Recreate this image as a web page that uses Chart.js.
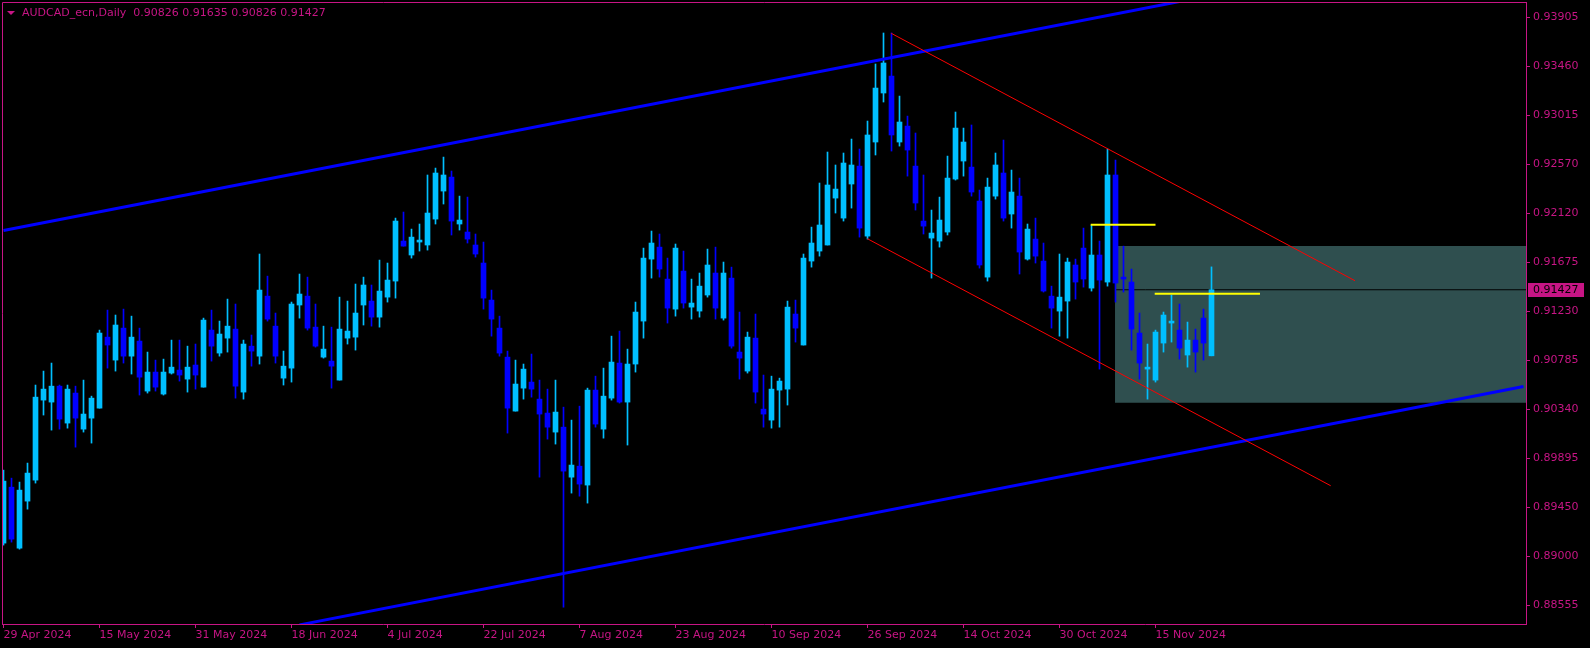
<!DOCTYPE html>
<html><head><meta charset="utf-8">
<script src="https://cdn.jsdelivr.net/npm/chart.js@4.4.0/dist/chart.umd.min.js"></script>
<style>html,body{margin:0;padding:0;background:#000;overflow:hidden}canvas{display:block}</style>
</head><body>
<canvas id="c" width="1590" height="648"></canvas>
<script>
// ---------- DATA ----------
const symbolTitle = 'AUDCAD_ecn,Daily';
const xTickLabels = ['29 Apr 2024','15 May 2024','31 May 2024','18 Jun 2024','4 Jul 2024','22 Jul 2024','7 Aug 2024','23 Aug 2024','10 Sep 2024','26 Sep 2024','14 Oct 2024','30 Oct 2024','15 Nov 2024'];
const barsPerTick = 12;
const yTickLabels = ['0.93905','0.93460','0.93015','0.92570','0.92120','0.91675','0.91230','0.90785','0.90340','0.89895','0.89450','0.89000','0.88555'];

const opens = [0.89122,0.89631,0.89076,0.89504,0.89695,0.90423,0.90405,0.90550,0.90214,0.90487,
0.90159,0.90259,0.90350,0.90996,0.90787,0.91078,0.90823,0.90960,0.90505,0.90678,
0.90478,0.90669,0.90696,0.90614,0.90742,0.90541,0.91060,0.90851,0.90987,0.91069,
0.90496,0.90914,0.90823,0.91369,0.91096,0.90623,0.90714,0.91288,0.91369,0.91087,
0.90814,0.90778,0.90605,0.90987,0.90996,0.91288,0.91324,0.91178,0.91360,0.91506,
0.91870,0.91743,0.91861,0.91834,0.92070,0.92325,0.92452,0.92025,0.91952,0.91834,
0.91670,0.91333,0.91078,0.90814,0.90323,0.90532,0.90587,0.90432,0.90305,0.90132,
0.90177,0.89722,0.89822,0.89650,0.90514,0.90159,0.90441,0.90760,0.90405,0.90751,
0.91142,0.91706,0.91815,0.91524,0.91251,0.91597,0.91269,0.91233,0.91379,0.91579,
0.91169,0.91533,0.90860,0.90687,0.90987,0.90341,0.90241,0.90514,0.90523,0.91206,
0.90924,0.91688,0.91779,0.91834,0.92261,0.92079,0.92389,0.92552,0.91915,0.92771,
0.93217,0.93371,0.92771,0.92916,0.92552,0.92052,0.91897,0.91870,0.91952,0.92434,
0.92598,0.92543,0.92234,0.91542,0.92279,0.92489,0.92116,0.92279,0.91706,0.91888,
0.91688,0.91369,0.91233,0.91324,0.91652,0.91806,0.91442,0.91743,0.91497,0.92471,
0.91542,0.91497,0.91033,0.90705,0.90605,0.90942,0.91124,0.91060,0.90833,0.90969,
0.91169,0.90826];
const highs = [0.89786,0.89713,0.89677,0.89850,0.90560,0.90687,0.90760,0.90560,0.90560,0.90550,
0.90605,0.90459,0.91060,0.91242,0.91197,0.91251,0.91187,0.91078,0.90860,0.90787,
0.90796,0.90969,0.90969,0.90914,0.90933,0.91169,0.91242,0.91142,0.91342,0.91297,
0.90969,0.91015,0.91752,0.91551,0.91215,0.90869,0.91315,0.91570,0.91542,0.91297,
0.91096,0.91087,0.91360,0.91324,0.91479,0.91542,0.91470,0.91697,0.91670,0.92079,
0.92134,0.91979,0.92025,0.92471,0.92534,0.92634,0.92507,0.92279,0.92270,0.91934,
0.91861,0.91424,0.91187,0.90869,0.90787,0.90751,0.90842,0.90605,0.90523,0.90605,
0.90359,0.90241,0.90368,0.90532,0.90641,0.90714,0.91005,0.91051,0.90887,0.91315,
0.91806,0.91961,0.91934,0.91715,0.91843,0.91779,0.91524,0.91579,0.91797,0.91815,
0.91679,0.91633,0.91224,0.91042,0.91206,0.90651,0.90641,0.90623,0.91324,0.91333,
0.91752,0.91997,0.92398,0.92680,0.92562,0.92671,0.92798,0.92707,0.92962,0.93481,
0.93763,0.93763,0.93189,0.93007,0.92853,0.92471,0.92152,0.92270,0.92643,0.93044,
0.92898,0.92926,0.92334,0.92443,0.92671,0.92789,0.92516,0.92443,0.92025,0.92079,
0.91852,0.91460,0.91752,0.91715,0.91706,0.91988,0.92016,0.91870,0.92707,0.92607,
0.91824,0.91615,0.91215,0.90933,0.91060,0.91224,0.91379,0.91297,0.91133,0.91069,
0.91251,0.91635];
const lows = [0.89104,0.89131,0.89067,0.89431,0.89668,0.90287,0.90150,0.90159,0.90168,0.89995,
0.90132,0.90032,0.90350,0.90714,0.90687,0.90760,0.90660,0.90469,0.90487,0.90505,
0.90469,0.90660,0.90596,0.90496,0.90523,0.90541,0.90778,0.90823,0.90860,0.90441,
0.90432,0.90732,0.90751,0.91142,0.90760,0.90560,0.90587,0.91169,0.91060,0.90905,
0.90805,0.90532,0.90605,0.90933,0.90878,0.91106,0.91096,0.91087,0.91315,0.91351,
0.91824,0.91715,0.91779,0.91788,0.92025,0.92207,0.91925,0.91970,0.91852,0.91724,
0.91251,0.91005,0.90823,0.90123,0.90323,0.90432,0.90450,0.89722,0.90068,0.90023,
0.88539,0.89577,0.89549,0.89486,0.90177,0.90077,0.90423,0.90396,0.90014,0.90678,
0.90987,0.91533,0.91542,0.91124,0.91187,0.91260,0.91160,0.91178,0.91360,0.91160,
0.91151,0.90896,0.90614,0.90669,0.90396,0.90177,0.90168,0.90177,0.90378,0.90951,
0.90924,0.91633,0.91733,0.91834,0.92125,0.92052,0.92170,0.91906,0.91888,0.92653,
0.93135,0.92689,0.92734,0.92461,0.92152,0.91934,0.91533,0.91815,0.91925,0.92425,
0.92461,0.92279,0.91624,0.91506,0.92252,0.92052,0.91988,0.91570,0.91697,0.91670,
0.91406,0.91078,0.91005,0.90987,0.91342,0.91451,0.91415,0.90705,0.91460,0.91315,
0.91406,0.90878,0.90614,0.90432,0.90587,0.90860,0.90951,0.90796,0.90723,0.90678,
0.90787,0.90826];
const closes = [0.89686,0.89158,0.89604,0.89759,0.90450,0.90523,0.90550,0.90250,0.90523,0.90259,
0.90296,0.90441,0.91033,0.90924,0.91106,0.90823,0.90996,0.90632,0.90678,0.90541,
0.90678,0.90723,0.90651,0.90723,0.90651,0.91151,0.90914,0.91024,0.91096,0.90550,
0.90933,0.90869,0.91424,0.91160,0.90823,0.90732,0.91297,0.91388,0.91078,0.90914,
0.90887,0.90732,0.91069,0.91051,0.91215,0.91470,0.91178,0.91415,0.91515,0.92052,
0.91824,0.91906,0.91879,0.92125,0.92489,0.92471,0.92052,0.92061,0.91888,0.91752,
0.91351,0.91160,0.90851,0.90350,0.90569,0.90705,0.90523,0.90296,0.90177,0.90314,
0.89777,0.89832,0.89659,0.90514,0.90205,0.90459,0.90769,0.90405,0.90751,0.91224,
0.91715,0.91852,0.91615,0.91260,0.91806,0.91306,0.91306,0.91460,0.91652,0.91260,
0.91579,0.90914,0.90805,0.90996,0.90496,0.90296,0.90523,0.90596,0.91269,0.91078,
0.91715,0.91852,0.92016,0.92380,0.92343,0.92580,0.92562,0.91988,0.92835,0.93262,
0.93490,0.92835,0.92953,0.92698,0.92216,0.92006,0.91943,0.92061,0.92443,0.92898,
0.92771,0.92316,0.91652,0.92361,0.92562,0.92079,0.92316,0.91770,0.91979,0.91733,
0.91415,0.91260,0.91360,0.91679,0.91497,0.91524,0.91743,0.91515,0.92471,0.91488,
0.91524,0.91069,0.90760,0.90723,0.91042,0.91197,0.91142,0.90896,0.90969,0.90860,
0.90942,0.91427];

// drawn objects: [barIndex, price] end points
const channelUpper = [[0, 0.91966], [150, 0.94092]];
const channelLower = [[37, 0.88378], [190, 0.90546]];
const redUpper = [[110.97, 0.93760], [168.94, 0.91509]];
const redLower = [[107.97, 0.91892], [165.9, 0.89644]];
const level1 = [[135.9, 0.92019], [144.0, 0.92019]];
const level2 = [[143.9, 0.91391], [157.06, 0.91391]];
const zoneBars = [138.94, 192];
const zonePrices = [0.91825, 0.90399];

// ---------- CHART ----------
const PINK = '#C71585';
const BULL = '#00BFFF';
const BEAR = '#0000FF';
const FONT = 'DejaVu Sans';
const lastIdx = closes.length - 1;
const lastClose = closes[lastIdx];
const xMin = -0.1875, xMax = 190.3125;
const yMin = 0.88386, yMax = 0.94045;

const colors = opens.map((o, i) => closes[i] >= o ? BULL : BEAR);
const pts = a => a.map(p => ({x: p[0], y: p[1]}));

const bgPlugin = {
  id: 'bg',
  beforeDraw(chart) {
    const c = chart.ctx;
    c.save(); c.fillStyle = '#000'; c.fillRect(0, 0, chart.width, chart.height); c.restore();
  },
  afterDraw(chart) {
    const c = chart.ctx, a = chart.chartArea;
    c.save();
    c.strokeStyle = PINK; c.lineWidth = 1;
    c.beginPath();
    c.moveTo(Math.round(a.left) + 0.5, Math.round(a.bottom));
    c.lineTo(Math.round(a.left) + 0.5, Math.round(a.top) + 0.5);
    c.lineTo(Math.round(a.right), Math.round(a.top) + 0.5);
    c.stroke();
    // header
    c.fillStyle = PINK;
    c.beginPath(); c.moveTo(7, 11); c.lineTo(15, 11); c.lineTo(11, 15); c.closePath(); c.fill();
    c.font = '11px "' + FONT + '"';
    c.textBaseline = 'middle'; c.textAlign = 'left';
    c.fillText(symbolTitle + '  ' + [opens[lastIdx], highs[lastIdx], lows[lastIdx], closes[lastIdx]].map(v => v.toFixed(5)).join(' '), 22, 13);
    // current price box
    const y = Math.round(chart.scales.y.getPixelForValue(lastClose));
    c.fillStyle = PINK;
    c.fillRect(a.right + 2, y - 7, 56, 14);
    c.fillStyle = '#000';
    c.fillText(lastClose.toFixed(5), a.right + 7, y + 0.5);
    c.restore();
  }
};

const lineDs = (data, color, width, order) => ({
  type: 'line', data: pts(data), borderColor: color, borderWidth: width,
  pointRadius: 0, tension: 0, fill: false, order: order, clip: 0
});

new Chart(document.getElementById('c'), {
  type: 'bar',
  data: {
    datasets: [
      { type: 'line', data: [{x: zoneBars[0], y: zonePrices[0]}, {x: zoneBars[1], y: zonePrices[0]}],
        borderColor: 'rgba(0,0,0,0)', borderWidth: 0, pointRadius: 0, fill: '+1',
        backgroundColor: '#2F4F4F', order: 20, clip: 0 },
      { type: 'line', data: [{x: zoneBars[0], y: zonePrices[1]}, {x: zoneBars[1], y: zonePrices[1]}],
        borderColor: 'rgba(0,0,0,0)', borderWidth: 0, pointRadius: 0, fill: false, order: 19, clip: 0 },
      lineDs([[xMin - 1, lastClose], [xMax + 1, lastClose]], '#000000', 1, 18),
      { type: 'bar', data: highs.map((h, i) => ({x: i, y: [lows[i], h]})),
        backgroundColor: colors, borderWidth: 0, barThickness: 1, grouped: false, order: 10, clip: 0 },
      { type: 'bar', data: opens.map((o, i) => ({x: i, y: [o, closes[i]]})),
        backgroundColor: colors, borderWidth: 0, barThickness: 5, grouped: false, minBarLength: 1, order: 9, clip: 0 },
      lineDs(channelUpper, '#0000FF', 3, 5),
      lineDs(channelLower, '#0000FF', 3, 5),
      lineDs(redUpper, '#FF0000', 1, 4),
      lineDs(redLower, '#FF0000', 1, 4),
      lineDs(level1, '#FFFF00', 2, 3),
      lineDs(level2, '#FFFF00', 2, 3)
    ]
  },
  options: {
    responsive: false, animation: false, devicePixelRatio: 1,
    layout: { padding: { left: 2, top: 2, right: 0, bottom: 0 } },
    plugins: { legend: { display: false }, tooltip: { enabled: false } },
    events: [],
    scales: {
      x: {
        type: 'linear', min: xMin, max: xMax, offset: false, position: 'bottom',
        grid: { display: true, drawOnChartArea: false, drawTicks: true, tickLength: 4, color: PINK, offset: false },
        border: { display: true, color: PINK, width: 1 },
        afterBuildTicks: s => { s.ticks = xTickLabels.map((_, k) => ({ value: k * barsPerTick })); },
        afterFit: s => { s.height = 24; s.paddingLeft = 0; s.paddingRight = 0; },
        ticks: {
          color: PINK, font: { family: FONT, size: 11 }, align: 'start', padding: 1,
          maxRotation: 0, autoSkip: false,
          callback: (v, i) => xTickLabels[i]
        }
      },
      y: {
        type: 'linear', position: 'right', min: yMin, max: yMax,
        grid: { display: true, drawOnChartArea: false, drawTicks: true, tickLength: 4, color: PINK },
        border: { display: true, color: PINK, width: 1 },
        afterBuildTicks: s => { s.ticks = yTickLabels.map(t => ({ value: parseFloat(t) })); },
        afterFit: s => { s.width = 64; s.paddingTop = 0; s.paddingBottom = 0; },
        ticks: {
          color: PINK, font: { family: FONT, size: 11 }, padding: 3, autoSkip: false,
          callback: (v, i) => yTickLabels[i]
        }
      }
    }
  },
  plugins: [bgPlugin]
});
</script>
</body></html>
